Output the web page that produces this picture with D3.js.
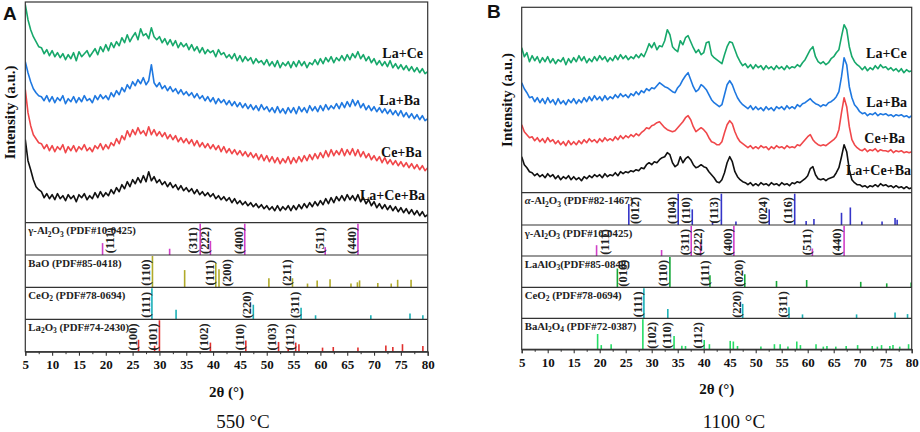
<!DOCTYPE html>
<html><head><meta charset="utf-8">
<script src="https://cdn.jsdelivr.net/npm/d3@7"></script>
<style>body{margin:0;background:#fff}svg{display:block}</style>
</head><body>
<svg id="c" width="920" height="432"></svg>
<script>
// ---------- DATA ----------
const twoTheta = d3.range(5, 80.001, 0.5);
const sampleNames = ["La+Ce", "La+Ba", "Ce+Ba", "La+Ce+Ba"];
const xTicks = [5,10,15,20,25,30,35,40,45,50,55,60,65,70,75,80];

// Panel A (550 °C) intensities (a.u.)
const A_LaCe = [
218,203,193,186,181,176,175,169,173,167,
172,166,170,165,169,163,168,164,170,162,
171,166,169,172,166,170,174,168,176,171,
178,172,180,175,181,177,185,180,188,181,
186,190,183,194,187,189,184,195,186,183,
186,180,184,178,183,177,182,175,180,176,
179,173,178,172,176,170,175,169,173,170,
172,166,173,168,170,165,168,164,169,162,
167,161,166,162,165,159,164,160,162,158,
163,157,161,156,162,155,160,157,161,155,
161,156,162,157,161,155,160,158,163,158,
164,159,165,161,166,160,165,162,167,162,
168,163,169,165,171,164,168,162,166,160,
164,158,162,157,161,156,162,155,159,154,
158,153,157,152,156,151,155,150,154,149,
151];
const A_LaBa = [
161,150,141,134,130,127,126,122,127,121,
126,120,125,122,127,119,124,121,126,120,
125,121,127,122,124,120,127,123,128,124,
127,123,130,126,132,128,135,131,138,134,
141,137,143,139,145,138,142,158,140,136,
140,134,137,132,136,131,134,129,133,128,
131,127,130,125,129,124,127,122,126,121,
125,119,124,120,123,118,122,117,121,116,
120,115,119,114,118,113,117,112,118,113,
116,111,115,110,116,110,114,109,115,110,
115,109,116,111,115,110,117,112,116,111,
117,112,118,113,117,114,119,114,120,115,
121,116,123,117,122,115,119,113,117,112,
116,111,115,110,114,109,113,108,112,107,
112,106,110,105,109,104,108,103,107,102,
104];
const A_CeBa = [
133,110,97,88,84,80,79,74,78,72,
77,71,76,73,78,70,76,72,77,71,
76,73,78,72,75,71,77,74,79,73,
78,74,80,77,84,79,87,83,92,86,
93,88,95,89,92,87,96,88,93,87,
91,86,90,84,88,83,87,81,85,80,
84,79,83,77,82,76,80,75,79,74,
78,73,77,71,76,70,74,69,73,68,
72,67,71,66,70,65,69,63,68,62,
67,61,66,60,65,59,64,60,66,59,
65,60,66,61,67,62,68,63,69,64,
70,65,72,66,73,67,72,68,74,67,
73,68,74,67,73,66,71,65,69,63,
67,62,66,60,65,59,63,58,62,57,
61,56,60,55,59,54,58,53,57,52,
55];
const A_LaCeBa = [
83,62,53,43,36,33,31,25,29,24,
28,23,29,24,27,22,28,24,27,21,
28,25,29,23,27,24,30,25,31,26,
30,27,33,29,35,31,38,34,41,36,
43,39,45,40,47,41,51,42,46,40,
43,38,41,36,40,35,38,33,37,32,
35,31,34,29,33,28,31,27,30,26,
29,24,27,23,26,22,25,20,24,19,
22,18,21,17,20,16,19,15,18,14,
17,13,16,12,17,12,16,13,17,12,
17,13,18,14,19,15,20,16,21,17,
22,18,24,19,25,20,26,22,27,22,
28,23,27,22,28,21,25,19,23,17,
21,15,19,14,18,13,17,12,16,11,
15,10,14,9,13,8,12,7,11,6,
8];

// Panel B (1100 °C) intensities (a.u.)
const B_LaCe = [
145,136,140,131,137,132,136,130,135,131,
136,130,134,129,133,131,135,128,134,130,
135,131,137,132,136,130,134,131,136,132,
137,133,136,131,135,132,137,133,138,134,
137,133,136,134,138,135,139,136,142,149,
145,150,143,147,146,152,163,158,146,143,
141,152,148,155,157,151,145,140,143,138,
140,150,151,138,135,133,131,129,138,146,
151,150,143,136,131,127,129,125,128,124,
128,125,127,123,127,124,126,123,127,124,
126,123,127,124,126,125,128,126,130,133,
138,143,146,136,131,129,131,128,130,134,
136,140,143,156,168,163,146,136,131,128,
126,123,126,122,125,123,127,124,128,125,
126,123,125,122,124,121,124,120,123,121,
122];
const B_LaBa = [
110,104,100,95,96,91,95,90,94,89,
95,90,93,88,94,89,92,88,93,90,
94,89,93,90,95,91,96,92,97,93,
96,92,97,93,96,94,98,95,99,96,
98,95,99,97,101,98,102,100,104,102,
105,104,107,110,108,106,105,103,101,100,
105,108,113,117,120,113,106,101,103,108,
106,103,98,93,90,88,86,88,98,108,
112,108,101,95,91,88,86,84,87,83,
86,83,85,82,86,83,85,82,86,84,
86,83,87,84,86,84,88,86,89,90,
92,94,91,89,88,86,88,87,90,91,
93,96,101,116,135,128,106,95,88,85,
81,79,80,77,79,78,80,77,79,78,
79,77,78,76,78,77,78,76,77,75,
77];
const B_CeBa = [
68,61,58,55,56,52,55,51,54,50,
55,51,53,49,52,48,51,47,52,48,
51,48,52,49,53,50,54,51,53,50,
54,51,55,52,54,52,56,53,57,54,
57,55,58,56,59,57,60,62,65,64,
67,68,70,71,68,65,63,62,61,62,
65,68,71,75,77,73,66,61,63,65,
63,60,55,51,50,48,48,51,60,68,
72,69,61,55,51,49,47,45,47,44,
46,44,47,45,46,43,46,44,47,45,
46,44,47,45,46,45,48,47,50,53,
56,58,53,50,48,47,48,47,49,51,
53,56,63,80,95,86,66,53,48,45,
43,42,44,41,43,42,44,41,43,42,
42,41,43,40,42,41,42,40,41,40,
41];
const B_LaCeBa = [
36,28,25,21,20,17,19,16,18,15,
19,16,18,14,17,13,16,14,17,13,
16,13,15,12,16,14,17,15,18,16,
18,15,19,16,18,17,20,17,21,19,
21,20,22,21,23,22,25,24,28,30,
28,31,30,33,35,36,40,38,30,26,
28,36,30,34,36,33,28,25,26,28,
26,25,21,18,15,11,10,13,20,30,
36,31,21,16,13,11,10,8,10,7,
9,7,10,8,9,7,10,8,9,7,
10,8,9,7,10,9,11,10,12,14,
17,24,26,18,14,13,14,12,14,15,
16,20,25,36,48,41,23,13,10,8,
8,6,7,5,7,6,8,6,9,7,
8,6,7,5,7,5,6,4,6,4,
5];

// Reference patterns: [2θ, relative intensity]
const gammaAl2O3_A = [[19.4,38],[31.9,20],[37.6,100],[39.5,45],[45.9,100],[60.9,25],[67.0,100]];
const BaO_A = [[28.7,100],[34.7,55],[40.5,78],[41.1,58],[50.4,29],[54.8,29],[57.6,12],[59.4,22],[61.8,26],[65.7,12],[66.9,16],[67.3,22],[70.7,14],[73.2,12],[74.4,24],[76.9,24]];
const CeO2_A = [[28.6,100],[33.1,31],[47.5,47],[56.4,37],[59.1,13],[69.4,13],[76.7,19],[79.1,13]];
const La2O3_A = [[26.1,38],[29.1,19],[30.0,100],[39.5,29],[46.1,36],[52.2,31],[54.0,9],[55.4,29],[56.0,24],[60.4,13],[62.4,15],[67.0,13],[72.2,20],[73.5,15],[75.3,24],[79.1,18]];

const alphaAl2O3_B = [[25.6,67],[35.1,100],[37.8,50],[41.7,10],[43.4,100],[46.2,11],[52.6,50],[57.5,100],[59.7,13],[61.2,19],[66.5,39],[68.2,56],[70.4,11],[74.3,11],[76.8,22],[77.2,17]];
const gammaAl2O3_B = [[19.4,36],[31.9,20],[37.6,100],[39.4,47],[45.8,100],[60.9,25],[67.0,100]];
const LaAlO3_B = [[23.4,62],[33.5,100],[41.2,40],[47.9,43],[54.0,21],[59.8,24],[70.2,18],[75.2,13],[79.9,16]];
const CeO2_B = [[28.5,100],[33.1,31],[47.5,48],[56.4,37],[59.0,13],[69.4,13],[76.8,19],[79.2,14]];
const BaAl2O4_B = [[19.6,51],[20.3,14],[22.2,17],[28.3,100],[34.3,44],[35.8,12],[36.5,11],[40.1,31],[41.1,17],[45.1,28],[45.7,26],[46.5,11],[51.0,9],[53.6,17],[54.7,17],[56.2,9],[57.9,26],[58.6,14],[61.6,17],[63.0,9],[63.7,11],[65.4,9],[67.4,11],[69.6,14],[72.4,11],[73.4,9],[74.2,14],[75.8,11],[76.4,14],[77.7,9],[79.4,17]];

// Miller-index labels: [text, 2θ of label]
const gammaLabels_A = [["(111)",20.8],["(311)",36.2],["(222)",38.5],["(400)",44.7],["(511)",59.8],["(440)",65.8]];
const BaOLabels_A = [["(110)",27.5],["(111)",39.3],["(200)",42.5],["(211)",53.7]];
const CeO2Labels_A = [["(111)",27.5],["(220)",46.3],["(311)",55.3]];
const La2O3Labels_A = [["(100)",25.0],["(101)",28.7],["(102)",38.2],["(110)",45.0],["(103)",50.9],["(112)",54.2]];
const alphaLabels_B = [["(012)",26.8],["(104)",33.8],["(110)",36.6],["(113)",42.0],["(024)",51.3],["(116)",56.2]];
const gammaLabels_B = [["(111)",20.9],["(311)",36.4],["(222)",38.8],["(400)",44.7],["(511)",59.8],["(440)",65.6]];
const LaAlO3Labels_B = [["(010)",24.5],["(110)",32.2],["(111)",40.1],["(020)",46.7]];
const CeO2Labels_B = [["(111)",27.3],["(220)",46.3],["(311)",55.2]];
const BaAl2O4Labels_B = [["(102)",30.0],["(110)",32.9],["(112)",38.8]];

// ---------- STYLE / LAYOUT ----------
const curveColors = ["#17a86b", "#1f78e0", "#f0474a", "#111111"];
const serif = "'Liberation Serif','Times New Roman',serif";
const svg = d3.select("#c");

const panels = [
  { letter:"A", caption:"550 \u00B0C", captionX:243, x0:25.3, x1:427.7, top:2, mainBottom:222.7,
    rowBounds:[222.7,255,287.3,319.3,351.7], yMax:220, letterX:3, letterY:20, yTitleX:10,
    curves:[A_LaCe,A_LaBa,A_CeBa,A_LaCeBa],
    curveLabels:[[423,58],[420,105],[421.7,156.5],[425,200]],
    rows:[
      {title:"\u03B3-Al_2O_3 (PDF#10-0425)", sticks:gammaAl2O3_A, labels:gammaLabels_A, color:"#d040c8"},
      {title:"BaO (PDF#85-0418)", sticks:BaO_A, labels:BaOLabels_A, color:"#b0aa2a"},
      {title:"CeO_2 (PDF#78-0694)", sticks:CeO2_A, labels:CeO2Labels_A, color:"#1bb0b5"},
      {title:"La_2O_3 (PDF#74-2430)", sticks:La2O3_A, labels:La2O3Labels_A, color:"#e0302e"}
    ]},
  { letter:"B", caption:"1100 \u00B0C", captionX:734, x0:521.7, x1:911.7, top:7.3, mainBottom:192.7,
    rowBounds:[192.7,225,256,287.3,318.3,349.3], yMax:186, letterX:487, letterY:18, yTitleX:507,
    curves:[B_LaCe,B_LaBa,B_CeBa,B_LaCeBa],
    curveLabels:[[906.7,58],[907,106.5],[905,143],[911,175]],
    rows:[
      {title:"\u03B1-Al_2O_3 (PDF#82-1467)", sticks:alphaAl2O3_B, labels:alphaLabels_B, color:"#3535c8", italicFirst:true},
      {title:"\u03B3-Al_2O_3 (PDF#10-0425)", sticks:gammaAl2O3_B, labels:gammaLabels_B, color:"#d040c8"},
      {title:"LaAlO_3(PDF#85-0848)", sticks:LaAlO3_B, labels:LaAlO3Labels_B, color:"#15a838"},
      {title:"CeO_2 (PDF#78-0694)", sticks:CeO2_B, labels:CeO2Labels_B, color:"#1bb0b5"},
      {title:"BaAl_2O_4 (PDF#72-0387)", sticks:BaAl2O4_B, labels:BaAl2O4Labels_B, color:"#26dd66"}
    ]}
];

// writes "Al_2O_3"-style text with real subscripts (no empty tspans)
function chemText(sel, str, italicFirst){
  const parts = str.split(/_(\d)/);
  let shift = 0;
  parts.forEach((p,i)=>{
    if(!p) return;
    const isSub = i%2===1;
    let txt = p;
    if(i===0 && italicFirst){
      sel.append("tspan").attr("font-style","italic").text(p[0]);
      txt = p.slice(1);
    }
    const ts = sel.append("tspan").text(txt);
    if(isSub){ ts.attr("dy",2.5).attr("font-size","7.5px"); shift = 2.5; }
    else if(shift){ ts.attr("dy",-shift); shift = 0; }
  });
}

panels.forEach((P,pi)=>{
  const g = svg.append("g");
  const x = d3.scaleLinear().domain([5,80]).range([P.x0,P.x1]);
  const y = d3.scaleLinear().domain([0,P.yMax]).range([P.mainBottom, P.mainBottom-P.yMax]);
  const clipId = "clip"+pi;
  svg.append("clipPath").attr("id",clipId).append("rect")
    .attr("x",P.x0).attr("y",P.top).attr("width",P.x1-P.x0).attr("height",P.mainBottom-P.top);

  const line = d3.line().x((d,i)=>x(twoTheta[i])).y(d=>y(d));
  P.curves.forEach((c,ci)=>{
    g.append("path").datum(c).attr("d",line)
      .attr("fill","none").attr("stroke",curveColors[ci]).attr("stroke-width",1.6)
      .attr("stroke-linejoin","round").attr("clip-path",`url(#${clipId})`);
  });
  P.curveLabels.forEach((pos,ci)=>{
    g.append("text").attr("x",pos[0]).attr("y",pos[1]).attr("text-anchor","end")
      .attr("font-family",serif).attr("font-weight","bold").attr("font-size","14px")
      .attr("fill","#111").text(sampleNames[ci]);
  });

  // reference rows
  P.rows.forEach((R,ri)=>{
    const rTop = P.rowBounds[ri], rBot = P.rowBounds[ri+1];
    const ry = d3.scaleLinear().domain([0,100]).range([rBot, rTop+1]);
    g.selectAll(null).data(R.sticks).enter().append("line")
      .attr("x1",d=>x(d[0])).attr("x2",d=>x(d[0]))
      .attr("y1",ry(0)).attr("y2",d=>ry(d[1]))
      .attr("stroke",R.color).attr("stroke-width",1.6);
    const t = g.append("text").attr("x",P.x0+3).attr("y",rTop+11.5)
      .attr("font-family",serif).attr("font-weight","bold").attr("font-size","10.8px").attr("fill","#222");
    chemText(t, R.title, R.italicFirst);
    const cy = (rTop+rBot)/2 + 1.5;
    g.selectAll(null).data(R.labels).enter().append("text")
      .attr("transform",d=>`translate(${x(d[1])+4.3},${cy}) rotate(-90)`)
      .attr("text-anchor","middle")
      .attr("font-family",serif).attr("font-weight","bold").attr("font-size","12.5px")
      .attr("fill","#222").text(d=>d[0]);
  });

  // frame and dividers
  g.append("rect").attr("x",P.x0).attr("y",P.top).attr("width",P.x1-P.x0)
    .attr("height",P.rowBounds[P.rowBounds.length-1]-P.top)
    .attr("fill","none").attr("stroke","#333").attr("stroke-width",1.2);
  P.rowBounds.slice(0,-1).forEach(b=>{
    g.append("line").attr("x1",P.x0).attr("x2",P.x1).attr("y1",b).attr("y2",b)
      .attr("stroke","#333").attr("stroke-width",1.2);
  });

  // axis
  const axisY = P.rowBounds[P.rowBounds.length-1];
  const ax = g.append("g").attr("transform",`translate(0,${axisY})`)
    .call(d3.axisBottom(x).tickValues(xTicks).tickSize(4).tickPadding(4).tickFormat(d3.format("d")));
  ax.select(".domain").attr("stroke","#333").attr("stroke-width",1.2);
  ax.selectAll(".tick line").attr("stroke","#333").attr("stroke-width",1.1);
  ax.selectAll("text").attr("font-family",serif).attr("font-weight","bold")
    .attr("font-size","13px").attr("fill","#111");
  const minor = g.append("g").attr("transform",`translate(0,${axisY})`)
    .call(d3.axisBottom(x).tickValues(d3.range(7.5,80,5)).tickSize(2.5).tickFormat(""));
  minor.select(".domain").remove();
  minor.selectAll(".tick line").attr("stroke","#333");

  // titles
  g.append("text").attr("x",(P.x0+P.x1)/2).attr("y",axisY+45)
    .attr("text-anchor","middle").attr("font-family",serif).attr("font-weight","bold")
    .attr("font-size","15px").attr("fill","#111").text("2\u03B8 (\u00B0)");
  g.append("text").attr("transform",`translate(${P.yTitleX+5},${(P.top+P.mainBottom)/2}) rotate(-90)`)
    .attr("text-anchor","middle").attr("font-family",serif).attr("font-weight","bold")
    .attr("font-size","15px").attr("fill","#111").text("Intensity (a.u.)");
  g.append("text").attr("x",P.letterX).attr("y",P.letterY)
    .attr("font-family","'Liberation Sans',Arial,sans-serif").attr("font-weight","bold")
    .attr("font-size","19px").attr("fill","#111").text(P.letter);
  g.append("text").attr("x",P.captionX).attr("y",428).attr("text-anchor","middle")
    .attr("font-family",serif).attr("font-size","19px").attr("fill","#111").text(P.caption);
});
</script>
</body></html>
